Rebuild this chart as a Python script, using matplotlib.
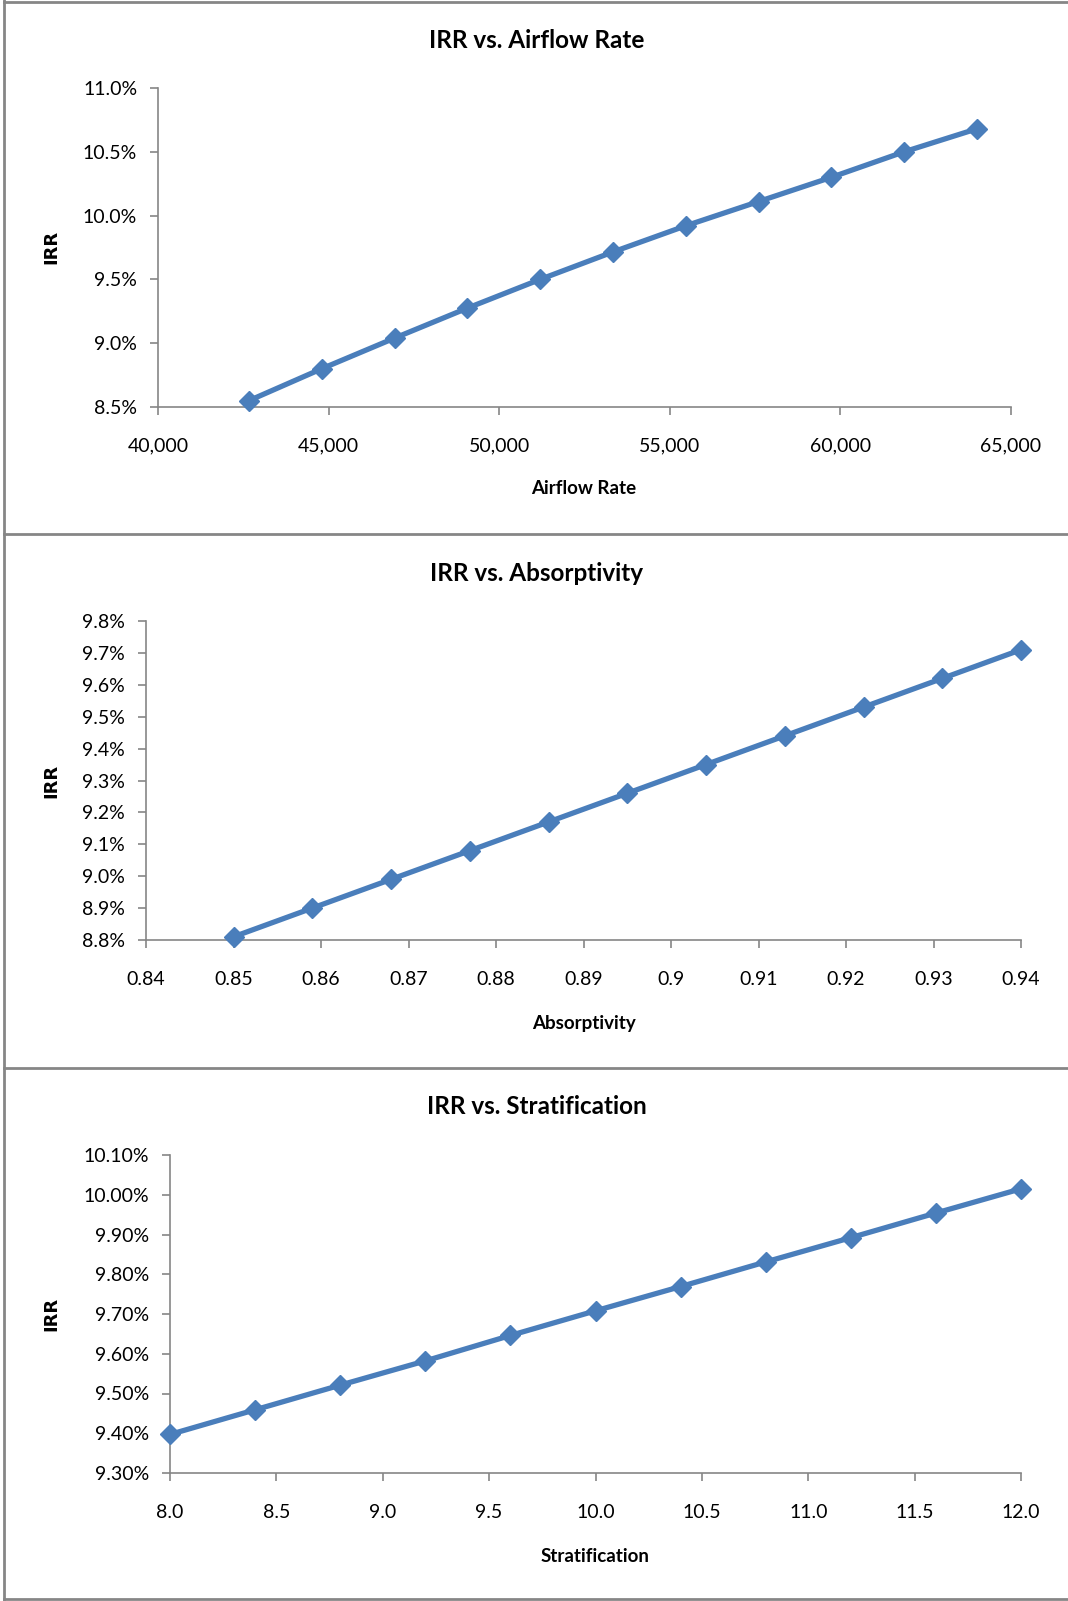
import matplotlib
matplotlib.use("Agg")
import matplotlib.pyplot as plt
from matplotlib.lines import Line2D
from matplotlib.ticker import FuncFormatter, MultipleLocator

plt.rcParams['font.family'] = ['Lato', 'DejaVu Sans']

# Dados
airflow = [42667, 44800, 46933, 49067, 51200, 53333, 55467, 57600, 59733, 61867, 64000]
irr_airflow = [8.55, 8.80, 9.04, 9.275, 9.50, 9.715, 9.92, 10.11, 10.30, 10.50, 10.68]

absorptivity = [0.85, 0.859, 0.868, 0.877, 0.886, 0.895, 0.904, 0.913, 0.922, 0.931, 0.94]
irr_absorptivity = [8.81, 8.90, 8.99, 9.08, 9.17, 9.26, 9.35, 9.44, 9.53, 9.62, 9.71]

stratification = [8.0, 8.4, 8.8, 9.2, 9.6, 10.0, 10.4, 10.8, 11.2, 11.6, 12.0]
irr_stratification = [9.397, 9.459, 9.521, 9.582, 9.646, 9.708, 9.769, 9.831, 9.892, 9.954, 10.015]

W, H = 1068, 1601
AZUL = "#4a7ebb"
CINZA = "#868686"

fig = plt.figure(figsize=(W / 100, H / 100), dpi=100)


def px_axes(left, right, top, bottom):
    # converte pixels (origem no topo) para fração da figura
    return fig.add_axes([left / W, 1 - bottom / H, (right - left) / W, (bottom - top) / H])


def fmt_geral(v, pos):
    s = f"{v:.2f}".rstrip("0").rstrip(".")
    return s


paineis = [
    dict(x=airflow, y=irr_airflow, box=(158, 1011, 88, 407), xlim=(40000, 65000), xstep=5000,
         ylim=(8.5, 11.0), ystep=0.5, yfmt="{:.1f}%", xfmt=lambda v, p: f"{v:,.0f}",
         title="IRR vs. Airflow Rate", ty=40, xlabel="Airflow Rate", xl=(584, 489), yl=(51, 247)),
    dict(x=absorptivity, y=irr_absorptivity, box=(146, 1021, 621, 940), xlim=(0.84, 0.94), xstep=0.01,
         ylim=(8.8, 9.8), ystep=0.1, yfmt="{:.1f}%", xfmt=fmt_geral,
         title="IRR vs. Absorptivity", ty=573, xlabel="Absorptivity", xl=(584, 1023), yl=(51, 781)),
    dict(x=stratification, y=irr_stratification, box=(170, 1021, 1155, 1473), xlim=(8.0, 12.0), xstep=0.5,
         ylim=(9.3, 10.1), ystep=0.1, yfmt="{:.2f}%", xfmt=lambda v, p: f"{v:.1f}",
         title="IRR vs. Stratification", ty=1106, xlabel="Stratification", xl=(595, 1556), yl=(51, 1314)),
]

for p in paineis:
    ax = px_axes(*p["box"])
    ax.plot(p["x"], p["y"], color=AZUL, lw=3.8, marker="D", markersize=10,
            markerfacecolor=AZUL, markeredgecolor=AZUL, clip_on=False, zorder=3)
    ax.set_xlim(*p["xlim"])
    ax.set_ylim(*p["ylim"])
    ax.xaxis.set_major_locator(MultipleLocator(p["xstep"]))
    ax.yaxis.set_major_locator(MultipleLocator(p["ystep"]))
    yf = p["yfmt"]
    ax.yaxis.set_major_formatter(FuncFormatter(lambda v, pos, yf=yf: yf.format(v)))
    ax.xaxis.set_major_formatter(FuncFormatter(p["xfmt"]))
    for lado in ["top", "right"]:
        ax.spines[lado].set_visible(False)
    for lado in ["left", "bottom"]:
        ax.spines[lado].set_color(CINZA)
        ax.spines[lado].set_linewidth(1.2)
    ax.tick_params(axis="both", colors=CINZA, labelcolor="black", labelsize=14,
                   length=6, width=1.2, direction="out")
    ax.tick_params(axis="x", pad=16)
    ax.tick_params(axis="y", pad=9)
    fig.text(537 / W, 1 - p["ty"] / H, p["title"], ha="center", va="center",
             fontsize=17.5, fontweight="bold")
    fig.text(p["xl"][0] / W, 1 - p["xl"][1] / H, p["xlabel"], ha="center", va="center",
             fontsize=13.5, fontweight="bold")
    fig.text(p["yl"][0] / W, 1 - p["yl"][1] / H, "IRR", ha="center", va="center",
             fontsize=13, fontweight="bold", rotation=90, family=["DejaVu Sans"])

# Bordas dos painéis
for yb in [2, 534, 1068, 1599]:
    fig.add_artist(Line2D([4 / W, 1], [1 - yb / H, 1 - yb / H], color=CINZA, lw=2))
fig.add_artist(Line2D([4 / W, 4 / W], [0, 1], color=CINZA, lw=2))

fig.savefig("out.png", dpi=100)
